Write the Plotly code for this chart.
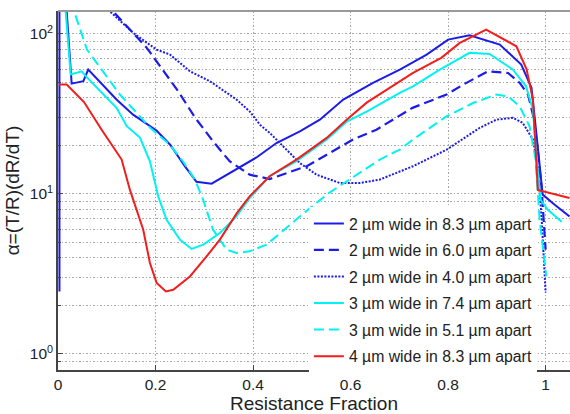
import plotly.graph_objects as go

# ---- data ----
names = [
    "2 µm wide in 8.3 µm apart",
    "2 µm wide in 6.0 µm apart",
    "2 µm wide in 4.0 µm apart",
    "3 µm wide in 7.4 µm apart",
    "3 µm wide in 5.1 µm apart",
    "4 µm wide in 8.3 µm apart",
]

s1_x = [0.003, 0.003, 0.012, 0.028, 0.052, 0.062, 0.120, 0.154, 0.202, 0.230, 0.260, 0.284, 0.315,
        0.366, 0.407, 0.448, 0.496, 0.537, 0.585, 0.646, 0.701, 0.756, 0.800, 0.844, 0.906, 0.950,
        0.971, 0.977, 0.988, 0.994, 1.018, 1.049]
s1_y = [2.46, 250, 250, 48.9, 50.6, 59.8, 38.9, 31.3, 24.9, 20.3, 14.9, 11.9, 11.6,
        14.2, 16.9, 20.8, 24.6, 29.1, 38.9, 49.4, 59.8, 74.3, 92.1, 98.0, 85.8, 64.3,
        46.0, 31.3, 14.2, 9.9, 8.6, 7.24]

s2_x = [0.098, 0.1133, 0.182, 0.2465, 0.281, 0.318, 0.352, 0.393, 0.434, 0.469, 0.510, 0.557,
        0.605, 0.653, 0.727, 0.797, 0.831, 0.882, 0.923, 0.947, 0.964, 0.974, 0.984, 0.992, 1.0]
s2_y = [160, 138, 81.8, 43.8, 30.0, 21.3, 16.0, 13.2, 12.4, 13.5, 14.9, 18.0,
        21.9, 25.2, 34.5, 41.8, 48.2, 58.4, 57.0, 49.4, 41.8, 31.3, 18.9, 10.6, 4.49]

s3_x = [0.092, 0.1066, 0.154, 0.202, 0.2295, 0.2705, 0.3115, 0.366, 0.393, 0.414, 0.434, 0.462,
        0.496, 0.530, 0.578, 0.619, 0.660, 0.728, 0.797, 0.865, 0.899, 0.933, 0.953, 0.974,
        0.984, 0.992, 1.0]
s3_y = [152, 138, 101.5, 79.8, 74.3, 58.4, 50.6, 38.9, 32.8, 27.1, 24.1, 19.8,
        15.6, 13.2, 11.7, 11.7, 12.3, 14.9, 18.9, 25.9, 29.1, 29.9, 27.8, 21.9,
        14.9, 6.9, 2.42]

s4_x = [0.009, 0.026, 0.0486, 0.0588, 0.120, 0.141, 0.168, 0.1885, 0.2055, 0.2227, 0.25, 0.274,
        0.298, 0.332, 0.366, 0.393, 0.434, 0.489, 0.551, 0.592, 0.633, 0.701, 0.728, 0.783,
        0.844, 0.885, 0.933, 0.960, 0.974, 0.9816, 0.9898, 1.004, 1.033]
s4_y = [250, 55.7, 58.4, 53.7, 34.5, 26.5, 22.5, 16.0, 9.66, 6.9, 5.18, 4.53,
        4.82, 5.7, 7.24, 9.44, 12.9, 16.0, 21.9, 28.3, 32.7, 42.8, 47.0, 59.8,
        76.1, 75.0, 59.8, 47.0, 33.6, 16.4, 9.2, 7.98, 6.7]

s5_x = [0.026, 0.0594, 0.127, 0.1885, 0.2295, 0.2568, 0.2807, 0.2977, 0.318, 0.3457, 0.366,
        0.393, 0.4277, 0.455, 0.496, 0.530, 0.557, 0.660, 0.701, 0.728, 0.7965, 0.851, 0.899,
        0.923, 0.9467, 0.967, 0.9795, 0.9877, 1.0014]
s5_y = [160, 79.8, 41.8, 26.0, 20.3, 15.9, 12.3, 9.2, 5.98, 4.49, 4.28,
        4.38, 4.82, 5.7, 7.24, 8.79, 10.2, 16.4, 18.9, 21.9, 30.5, 37.0, 41.8,
        40.7, 35.3, 26.5, 16.4, 6.9, 3.05]

s6_x = [0.002, 0.0178, 0.0533, 0.0895, 0.1305, 0.1475, 0.1748, 0.1885, 0.2023, 0.2213, 0.2363,
        0.2705, 0.3047, 0.332, 0.366, 0.393, 0.434, 0.489, 0.551, 0.592, 0.633, 0.701, 0.728,
        0.786, 0.824, 0.878, 0.940, 0.961, 0.974, 0.984, 0.9945, 1.049]
s6_y = [48.2, 48.2, 37.5, 25.2, 16.4, 10.6, 5.98, 3.7, 2.78, 2.46, 2.52,
        3.05, 4.07, 5.18, 7.53, 9.66, 12.9, 16.4, 22.4, 29.1, 37.2, 50.6, 57.0,
        70.8, 87.9, 106.4, 83.7, 60.0, 38.9, 10.6, 10.4, 9.44]

x_tickvals = [0, 0.2, 0.4, 0.6, 0.8, 1.0]
x_ticktext = ["0", "0.2", "0.4", "0.6", "0.8", "1"]
y_tickvals = [1, 10, 100]
y_ticktext = ["10<sup>0</sup>", "10<sup>1</sup>", "10<sup>2</sup>"]
y_minor = [0.8, 0.9] + [d * m for d in (1, 10) for m in range(2, 10)]

# ---- styles ----
BLUE = "#1c1ce8"
CYAN = "#00f2f2"
RED = "#f21d1d"
styles = [
    dict(color=BLUE, width=2, dash="solid"),
    dict(color=BLUE, width=2.2, dash="10px,5px"),
    dict(color=BLUE, width=2, dash="2px,1.5px"),
    dict(color=CYAN, width=2, dash="solid"),
    dict(color=CYAN, width=2, dash="10px,5px"),
    dict(color=RED, width=2, dash="solid"),
]
series = [(s1_x, s1_y), (s2_x, s2_y), (s3_x, s3_y), (s4_x, s4_y), (s5_x, s5_y), (s6_x, s6_y)]

fig = go.Figure()
for i, ((xs, ys), name, st) in enumerate(zip(series, names, styles)):
    fig.add_trace(go.Scatter(x=xs, y=ys, mode="lines", name=name, line=st,
                             legendgroup=f"g{i}"))

grid_color = "#a8a8a8"
grid_dash = "1.5px,2px"
fig.update_layout(
    width=570, height=414,
    margin=dict(l=58, r=0, t=11, b=44),
    plot_bgcolor="white", paper_bgcolor="white",
    font=dict(family="Liberation Sans, Arial, sans-serif", size=15.5, color="#222"),
    showlegend=True,
    legend=dict(x=0.49, y=0.455, xanchor="left", yanchor="top", bgcolor="white",
                borderwidth=0, font=dict(size=15.8), tracegroupgap=3,
                traceorder="grouped"),
    xaxis=dict(range=[0, 1.05], tickvals=x_tickvals, ticktext=x_ticktext,
               showgrid=True, gridcolor=grid_color, griddash=grid_dash, gridwidth=1,
               ticks="inside", ticklen=5, tickcolor="#444",
               showline=True, linecolor="#444", linewidth=1.5, zeroline=False,
               title=dict(text="Resistance Fraction", standoff=3)),
    yaxis=dict(type="log", range=[-0.1, 2.143], tickvals=y_tickvals, ticktext=y_ticktext,
               showgrid=True, gridcolor=grid_color, griddash=grid_dash, gridwidth=1,
               ticks="inside", ticklen=5, tickcolor="#444",
               minor=dict(tickvals=y_minor, showgrid=True, gridcolor=grid_color,
                          griddash=grid_dash, gridwidth=1, ticks="inside", ticklen=3,
                          tickcolor="#444"),
               showline=True, linecolor="#444", linewidth=1.5, zeroline=False,
               title=dict(text="α=(T/R)(dR/dT)", standoff=5)),
    shapes=[dict(type="line", xref="paper", yref="paper", x0=0, x1=1, y0=1, y1=1,
                 line=dict(color="#9a9a9a", width=2))],
)

fig.write_html("out.html")
